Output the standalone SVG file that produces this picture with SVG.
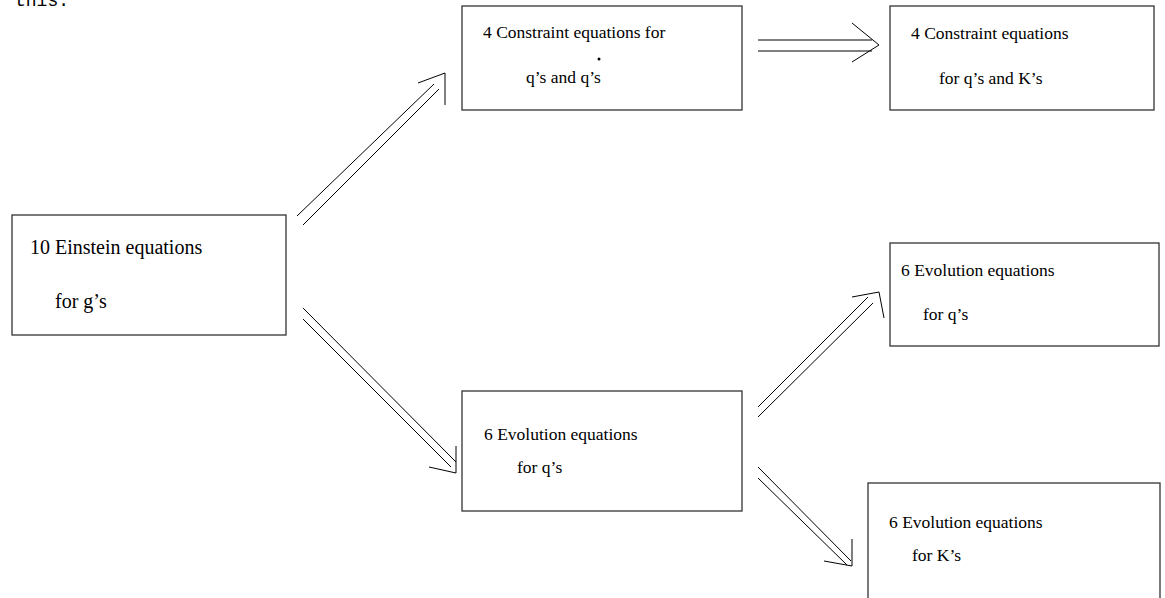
<svg xmlns="http://www.w3.org/2000/svg" width="1165" height="598" viewBox="0 0 1165 598">
<style>
.box{fill:#fff;stroke:#333;stroke-width:1.3}
.t{font-family:"Liberation Serif","Times New Roman",serif;fill:#000}
.c{fill:none;stroke:#000;stroke-width:1}
</style>
<rect width="1165" height="598" fill="#fff"/>
<text x="15" y="6" font-family="Liberation Mono, monospace" font-size="18" fill="#000">this.</text>
<g id="einstein">
<rect class="box" x="12" y="215" width="274" height="120"/>
<text class="t" x="30" y="254" font-size="20">10 Einstein equations</text>
<text class="t" x="55" y="308" font-size="20">for g’s</text>
</g>
<g id="constraint1">
<rect class="box" x="462" y="6" width="280" height="104"/>
<text class="t" x="483" y="38" font-size="17.5">4 Constraint equations for</text>
<text class="t" x="526" y="83" font-size="17.5">q’s and q’s</text>
<circle cx="599" cy="59" r="1.5" fill="#000"/>
</g>
<g id="constraint2">
<rect class="box" x="890" y="6" width="264" height="104"/>
<text class="t" x="911" y="39" font-size="17.5">4 Constraint equations</text>
<text class="t" x="939" y="84" font-size="17.5">for q’s and K’s</text>
</g>
<g id="evolution1">
<rect class="box" x="462" y="391" width="280" height="120"/>
<text class="t" x="484" y="440" font-size="17.5">6 Evolution equations</text>
<text class="t" x="517" y="473" font-size="17.5">for q’s</text>
</g>
<g id="evolution2">
<rect class="box" x="890" y="243" width="269" height="103"/>
<text class="t" x="901" y="276" font-size="17.5">6 Evolution equations</text>
<text class="t" x="923" y="320" font-size="17.5">for q’s</text>
</g>
<g id="evolution3">
<rect class="box" x="868" y="483" width="292" height="130"/>
<text class="t" x="889" y="528" font-size="17.5">6 Evolution equations</text>
<text class="t" x="912" y="561" font-size="17.5">for K’s</text>
</g>
<g id="connectors">
<line class="c" x1="297" y1="216" x2="434" y2="84"/>
<line class="c" x1="303" y1="225" x2="439" y2="89"/>
<polyline class="c" points="418,83 445,73 445,105"/>
<line class="c" x1="303" y1="308" x2="456" y2="462"/>
<line class="c" x1="303" y1="319" x2="451" y2="467"/>
<polyline class="c" points="456,446 456,473 429,467"/>
<line class="c" x1="758" y1="40" x2="872" y2="40"/>
<line class="c" x1="758" y1="51" x2="872" y2="51"/>
<polyline class="c" points="852,23 879,45 852,62"/>
<line class="c" x1="758" y1="407" x2="868" y2="297"/>
<line class="c" x1="758" y1="417" x2="873" y2="303"/>
<polyline class="c" points="852,297 879,292 884,318"/>
<line class="c" x1="758" y1="467" x2="851" y2="561"/>
<line class="c" x1="758" y1="478" x2="847" y2="565"/>
<polyline class="c" points="852,539 852,566 824,561"/>
</g>
</svg>
